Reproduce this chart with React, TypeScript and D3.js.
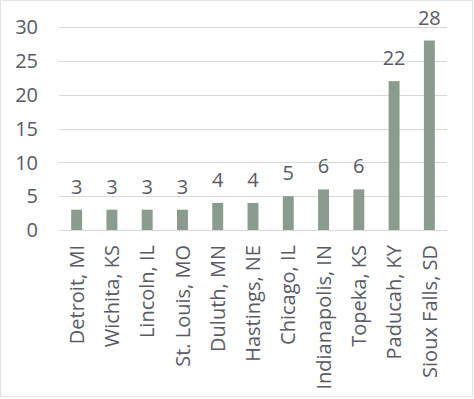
import React, { useEffect, useRef } from "react";
import * as d3 from "d3";

const cities = [
  "Detroit, MI",
  "Wichita, KS",
  "Lincoln, IL",
  "St. Louis, MO",
  "Duluth, MN",
  "Hastings, NE",
  "Chicago, IL",
  "Indianapolis, IN",
  "Topeka, KS",
  "Paducah, KY",
  "Sioux Falls, SD",
];
const counts = [3, 3, 3, 3, 4, 4, 5, 6, 6, 22, 28];
const yTicks = [0, 5, 10, 15, 20, 25, 30];

const App = () => {
  const svgRef = useRef<SVGSVGElement>(null);

  useEffect(() => {
    const width = 474,
      height = 399;
    const margin = { top: 27, right: 27, bottom: 169, left: 59 };

    const svg = d3.select(svgRef.current);
    svg.selectAll("*").remove();

    svg
      .append("rect")
      .attr("x", 0.5)
      .attr("y", 0.5)
      .attr("width", width - 2)
      .attr("height", height - 3)
      .attr("fill", "#fff")
      .attr("stroke", "#e3e3e3");

    const x = d3
      .scaleBand()
      .domain(cities)
      .range([margin.left, width - margin.right])
      .paddingInner(0.69)
      .paddingOuter(0.345);

    const y = d3
      .scaleLinear()
      .domain([0, 30])
      .range([height - margin.bottom, margin.top]);

    const font = "'Open Sans', sans-serif";
    const textColor = "#5a5a66";
    const fontSize = 20;

    // gridlines
    svg
      .append("g")
      .selectAll("line")
      .data(yTicks)
      .join("line")
      .attr("x1", margin.left)
      .attr("x2", width - margin.right)
      .attr("y1", (d) => Math.round(y(d)) + 0.5)
      .attr("y2", (d) => Math.round(y(d)) + 0.5)
      .attr("stroke", "#d9d9d9")
      .attr("stroke-width", 1.2);

    // y tick labels
    svg
      .append("g")
      .selectAll("text")
      .data(yTicks)
      .join("text")
      .attr("x", 38)
      .attr("y", (d) => y(d))
      .attr("dy", "0.36em")
      .attr("text-anchor", "end")
      .attr("font-family", font)
      .attr("font-size", fontSize)
      .attr("fill", textColor)
      .text((d) => d);

    // bars
    svg
      .append("g")
      .selectAll("rect")
      .data(counts)
      .join("rect")
      .attr("x", (d, i) => x(cities[i]))
      .attr("y", (d) => y(d))
      .attr("width", x.bandwidth())
      .attr("height", (d) => y(0) - y(d))
      .attr("fill", "#8c9b8f");

    // data labels
    svg
      .append("g")
      .selectAll("text")
      .data(counts)
      .join("text")
      .attr("x", (d, i) => x(cities[i]) + x.bandwidth() / 2)
      .attr("y", (d) => y(d) - 16)
      .attr("text-anchor", "middle")
      .attr("font-family", font)
      .attr("font-size", fontSize)
      .attr("fill", textColor)
      .text((d) => d);

    // category labels, rotated
    svg
      .append("g")
      .selectAll("text")
      .data(cities)
      .join("text")
      .attr(
        "transform",
        (d) => `translate(${x(d) + x.bandwidth() / 2},${y(0) + 15}) rotate(-90)`
      )
      .attr("dy", "0.36em")
      .attr("text-anchor", "end")
      .attr("font-family", font)
      .attr("font-size", fontSize)
      .attr("fill", textColor)
      .text((d) => d);
  }, []);

  return (
    <svg
      ref={svgRef}
      width={474}
      height={399}
      style={{ position: "absolute", left: 0, top: 0 }}
    ></svg>
  );
};

export default App;
